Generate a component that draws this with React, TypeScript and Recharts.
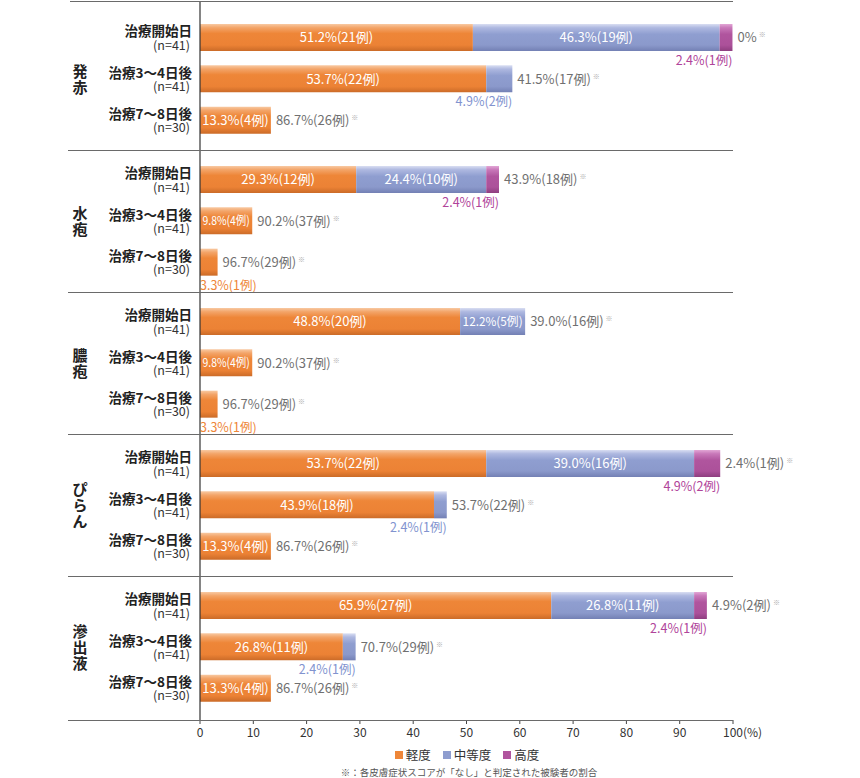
import React from "react";
import { Bar, BarChart, LabelList, XAxis, YAxis } from "recharts";

const groups = ["発赤", "水疱", "膿疱", "ぴらん", "滲出液"];
const timepoints = ["治療開始日", "治療3〜4日後", "治療7〜8日後"];
const sampleSizes = [41, 41, 30];

// % of patients per severity, [group][timepoint]
const mildPct = [
  [51.2, 53.7, 13.3],
  [29.3, 9.8, 3.3],
  [48.8, 9.8, 3.3],
  [53.7, 43.9, 13.3],
  [65.9, 26.8, 13.3],
];
const mildCases = [
  [21, 22, 4],
  [12, 4, 1],
  [20, 4, 1],
  [22, 18, 4],
  [27, 11, 4],
];
const moderatePct = [
  [46.3, 4.9, 0],
  [24.4, 0, 0],
  [12.2, 0, 0],
  [39.0, 2.4, 0],
  [26.8, 2.4, 0],
];
const moderateCases = [
  [19, 2, 0],
  [10, 0, 0],
  [5, 0, 0],
  [16, 1, 0],
  [11, 1, 0],
];
const severePct = [
  [2.4, 0, 0],
  [2.4, 0, 0],
  [0, 0, 0],
  [4.9, 0, 0],
  [2.4, 0, 0],
];
const severeCases = [
  [1, 0, 0],
  [1, 0, 0],
  [0, 0, 0],
  [2, 0, 0],
  [1, 0, 0],
];
// "なし" (no symptom) share, shown as the grey note after each bar
const nonePct = [
  [0, 41.5, 86.7],
  [43.9, 90.2, 96.7],
  [39.0, 90.2, 96.7],
  [2.4, 53.7, 86.7],
  [4.9, 70.7, 86.7],
];
const noneCases = [
  [0, 17, 26],
  [18, 37, 29],
  [16, 37, 29],
  [1, 22, 26],
  [2, 29, 26],
];
const xTicks = [0, 10, 20, 30, 40, 50, 60, 70, 80, 90, 100];

const legendItems = [
  { name: "軽度", color: "#EE8638" },
  { name: "中等度", color: "#8E9DCF" },
  { name: "高度", color: "#B0559E" },
];

const FONT = "'Noto Sans CJK JP', 'Noto Sans', sans-serif";
const PLOT_LEFT = 200;
const PLOT_RIGHT = 733;
const groupTop = [1, 150, 292, 434, 576];
const groupHeight = [149, 142, 142, 142, 144];
const padTop = [16, 9, 9, 9, 9];
const padBottom = [9, 9, 9, 9, 11];
const AXIS_H = 30;

const pctText = (v: number, n: number) => (v === 0 ? "0%" : `${v.toFixed(1)}%(${n}例)`);

const boxOf = (p: any) => {
  const vb = p.viewBox && p.viewBox.width !== undefined ? p.viewBox : p;
  return { x: +vb.x, y: +vb.y, width: +vb.width, height: +vb.height };
};

// LabelList is keyed on the row name so zero-width segments never shift the lookup
const segLabel = (pcts: number[], cases: number[], color: string) => (p: any) => {
  const idx = timepoints.indexOf(p.value);
  const v = pcts[idx];
  if (!v) return null;
  const { x, y, width, height } = boxOf(p);
  const label = pctText(v, cases[idx]);
  const cy = y + height / 2;
  if (width >= 68) {
    return (
      <text x={x + width / 2} y={cy} dy="0.36em" textAnchor="middle" fill="#fff" fontSize={13}>
        {label}
      </text>
    );
  }
  if (width >= 40) {
    return (
      <text
        x={x + width / 2}
        y={cy}
        dy="0.36em"
        textAnchor="middle"
        fill="#fff"
        fontSize={12}
        textLength={width - 5}
        lengthAdjust="spacingAndGlyphs"
      >
        {label}
      </text>
    );
  }
  const end = x + width;
  const atStart = end - 62 < PLOT_LEFT;
  return (
    <text
      x={atStart ? x : end}
      y={y + height + 14}
      textAnchor={atStart ? "start" : "end"}
      fill={color}
      fontSize={12.5}
    >
      {label}
    </text>
  );
};

const noneLabel = (pcts: number[], cases: number[]) => (p: any) => {
  const idx = timepoints.indexOf(p.value);
  if (idx < 0) return null;
  const { x, y, height } = boxOf(p);
  return (
    <text x={x + 5} y={y + height / 2} dy="0.36em" fill="#707070" fontSize={13}>
      {pctText(pcts[idx], cases[idx])}
      <tspan fontSize={7} dy={-5} dx={2} fill="#aaa">※</tspan>
    </text>
  );
};

const RowTick = ({ y, payload, index, group }: any) => {
  const chars = Array.from(groups[group]);
  return (
    <g>
      <text x={192} y={y - 1.5} textAnchor="end" fontSize={13.5} fontWeight={700} fill="#222">
        {payload.value}
      </text>
      <text x={190} y={y + 12} textAnchor="end" fontSize={12.5} fill="#333">
        (n={sampleSizes[index]})
      </text>
      {index === 1 &&
        chars.map((c, j) => (
          <text
            key={c + j}
            x={80}
            y={y + (j - (chars.length - 1) / 2) * 16}
            dy="0.38em"
            textAnchor="middle"
            fontSize={15}
            fontWeight={700}
            fill="#222"
          >
            {c}
          </text>
        ))}
    </g>
  );
};

const XTick = ({ x, y, payload }: any) => (
  <g>
    <text x={x} y={y} dy="0.71em" textAnchor="middle" fontSize={12} fill="#333">
      {payload.value}
    </text>
    {payload.value === 100 && (
      <text x={x + 10} y={y} dy="0.71em" textAnchor="start" fontSize={12} fill="#333">
        (%)
      </text>
    )}
  </g>
);

function Gradients({ g }: { g: number }) {
  return (
    <defs>
      <linearGradient id={`mild${g}`} x1="0" y1="0" x2="0" y2="1">
        <stop offset="0%" stopColor="#F8C9A2" />
        <stop offset="14%" stopColor="#F3A468" />
        <stop offset="35%" stopColor="#EE8638" />
        <stop offset="78%" stopColor="#EC8235" />
        <stop offset="100%" stopColor="#CB6B28" />
      </linearGradient>
      <linearGradient id={`mod${g}`} x1="0" y1="0" x2="0" y2="1">
        <stop offset="0%" stopColor="#D9DEF2" />
        <stop offset="14%" stopColor="#AEB8E0" />
        <stop offset="38%" stopColor="#8F9ED0" />
        <stop offset="78%" stopColor="#8B99CB" />
        <stop offset="100%" stopColor="#7380B4" />
      </linearGradient>
      <linearGradient id={`sev${g}`} x1="0" y1="0" x2="0" y2="1">
        <stop offset="0%" stopColor="#E2A6D5" />
        <stop offset="14%" stopColor="#C878B9" />
        <stop offset="38%" stopColor="#B0559E" />
        <stop offset="78%" stopColor="#AC519A" />
        <stop offset="100%" stopColor="#8E3E7F" />
      </linearGradient>
    </defs>
  );
}

function GroupChart({ g }: { g: number }) {
  const last = g === groups.length - 1;
  const rows = timepoints.map((name, i) => ({
    name,
    mild: mildPct[g][i],
    moderate: moderatePct[g][i],
    severe: severePct[g][i],
    // transparent spacer up to 100%, carries the "なし" note at its start
    rest: 100 - (mildPct[g][i] + moderatePct[g][i] + severePct[g][i]),
  }));
  return (
    <div style={{ position: "absolute", left: 0, top: groupTop[g] }}>
      <BarChart
        layout="vertical"
        width={860}
        height={groupHeight[g] + (last ? AXIS_H : 0)}
        data={rows}
        margin={{ top: 0, right: 860 - PLOT_RIGHT, bottom: 0, left: 0 }}
        barSize={27}
      >
        <Gradients g={g} />
        <XAxis
          type="number"
          domain={[0, 100]}
          allowDataOverflow
          ticks={xTicks}
          interval={0}
          hide={!last}
          height={AXIS_H}
          axisLine={false}
          tickLine={{ stroke: "#444" }}
          tickSize={4}
          tickMargin={4}
          tick={<XTick />}
        />
        <YAxis
          type="category"
          dataKey="name"
          width={PLOT_LEFT}
          padding={{ top: padTop[g], bottom: padBottom[g] }}
          axisLine={{ stroke: "#333", strokeWidth: 1.2 }}
          tickLine={false}
          interval={0}
          tick={<RowTick group={g} />}
        />
        <Bar dataKey="mild" stackId="s" fill={`url(#mild${g})`} isAnimationActive={false}>
          <LabelList dataKey="name" content={segLabel(mildPct[g], mildCases[g], "#EE8638")} />
        </Bar>
        <Bar dataKey="moderate" stackId="s" fill={`url(#mod${g})`} isAnimationActive={false}>
          <LabelList dataKey="name" content={segLabel(moderatePct[g], moderateCases[g], "#8193CF")} />
        </Bar>
        <Bar dataKey="severe" stackId="s" fill={`url(#sev${g})`} isAnimationActive={false}>
          <LabelList dataKey="name" content={segLabel(severePct[g], severeCases[g], "#B0449A")} />
        </Bar>
        <Bar dataKey="rest" stackId="s" fill="transparent" isAnimationActive={false}>
          <LabelList dataKey="name" content={noneLabel(nonePct[g], noneCases[g])} />
        </Bar>
      </BarChart>
    </div>
  );
}

const hLine = (top: number, left: number) => (
  <div
    key={top}
    style={{
      position: "absolute",
      top,
      left,
      width: PLOT_RIGHT - left,
      height: 0,
      borderTop: "1px solid #6a6a6a",
    }}
  />
);

export default function App() {
  return (
    <div
      style={{
        position: "absolute",
        left: 0,
        top: 0,
        width: 860,
        height: 778,
        background: "#fff",
        fontFamily: FONT,
      }}
    >
      <style>{`.recharts-surface{overflow:visible}`}</style>
      {groups.map((_, g) => (
        <GroupChart key={g} g={g} />
      ))}
      {hLine(1, 70)}
      {groupTop.slice(1).map((t) => hLine(t, 68))}
      {hLine(720, 68)}
      <div
        style={{
          position: "absolute",
          top: 747,
          left: 0,
          width: 2 * 467,
          display: "flex",
          justifyContent: "center",
          gap: 12,
          fontSize: 12.5,
          color: "#333",
          lineHeight: "16px",
        }}
      >
        {legendItems.map((it) => (
          <span key={it.name} style={{ display: "flex", alignItems: "center", gap: 3 }}>
            <span style={{ width: 8, height: 8, background: it.color, display: "inline-block" }} />
            {it.name}
          </span>
        ))}
      </div>
      <div
        style={{
          position: "absolute",
          top: 766,
          left: 0,
          width: 2 * 469,
          textAlign: "center",
          fontSize: 9.5,
          color: "#555",
          lineHeight: "12px",
        }}
      >
        ※：各皮膚症状スコアが「なし」と判定された被験者の割合
      </div>
    </div>
  );
}
